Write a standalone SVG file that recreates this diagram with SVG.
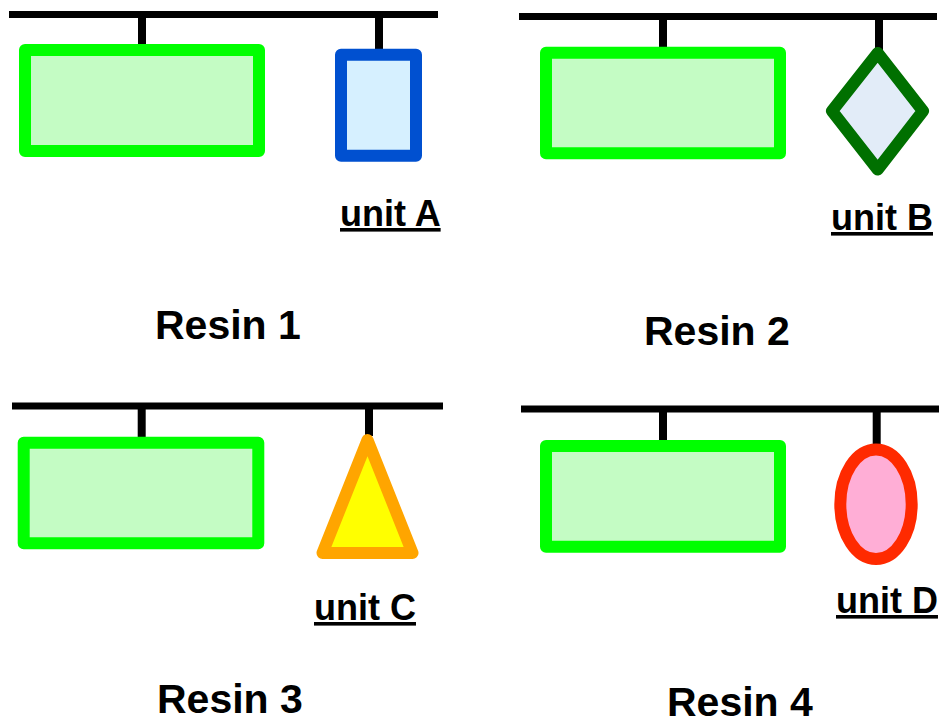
<svg xmlns="http://www.w3.org/2000/svg" width="942" height="726" viewBox="0 0 942 726">
  <style>
    .bar { stroke: #000; stroke-width: 7; fill: none; }
    .stem { stroke: #000; stroke-width: 8; fill: none; }
    .resin { fill: #c4fcc4; stroke: #00ff00; stroke-width: 12; stroke-linejoin: round; }
    .title { font-family: "Liberation Sans", Arial, sans-serif; font-weight: bold; font-size: 41px; fill: #000; }
    .unit { font-family: "Liberation Sans", Arial, sans-serif; font-weight: bold; font-size: 36px; fill: #000; text-decoration: underline; }
  </style>
  <rect width="942" height="726" fill="#fff"/>

  <!-- rails and hangers -->
  <g id="connectors">
    <line class="bar" x1="9" y1="14.5" x2="438" y2="14.5"/>
    <line class="stem" x1="142" y1="14" x2="142" y2="45"/>
    <line class="stem" x1="379" y1="14" x2="379" y2="50"/>

    <line class="bar" x1="519" y1="16.5" x2="937" y2="16.5"/>
    <line class="stem" x1="663" y1="16" x2="663" y2="47"/>
    <line class="stem" x1="879" y1="16" x2="879" y2="54"/>

    <line class="bar" x1="12" y1="406" x2="443" y2="406"/>
    <line class="stem" x1="141.7" y1="406" x2="141.7" y2="437"/>
    <line class="stem" x1="369" y1="406" x2="369" y2="436"/>

    <line class="bar" x1="521" y1="409" x2="939" y2="409"/>
    <line class="stem" x1="663" y1="409" x2="663" y2="440"/>
    <line class="stem" x1="876.7" y1="409" x2="876.7" y2="446"/>
  </g>

  <!-- panel 1 -->
  <g id="resin1">
    <rect class="resin" x="25" y="50" width="234" height="101"/>
    <text class="title" x="155" y="339">Resin 1</text>
  </g>
  <g id="unitA">
    <rect x="341" y="54.7" width="75" height="101" fill="#d6f0ff" stroke="#0050d0" stroke-width="12" stroke-linejoin="round"/>
    <text class="unit" x="340" y="226">unit A</text>
  </g>

  <!-- panel 2 -->
  <g id="resin2">
    <rect class="resin" x="546" y="52.7" width="234" height="100.6"/>
    <text class="title" x="644" y="345">Resin 2</text>
  </g>
  <g id="unitB">
    <polygon points="877.7,53 923,111 877.7,169.5 832,111" fill="#e2ecf8" stroke="#007000" stroke-width="12" stroke-linejoin="round"/>
    <text class="unit" x="831" y="230">unit B</text>
  </g>

  <!-- panel 3 -->
  <g id="resin3">
    <rect class="resin" x="23.7" y="442.7" width="234.6" height="100.6"/>
    <text class="title" x="157" y="713">Resin 3</text>
  </g>
  <g id="unitC">
    <polygon points="367.5,440 412.5,553 322.5,553" fill="#ffff00" stroke="#ffa500" stroke-width="12" stroke-linejoin="round"/>
    <text class="unit" x="314" y="620">unit C</text>
  </g>

  <!-- panel 4 -->
  <g id="resin4">
    <rect class="resin" x="546" y="446" width="234" height="100.7"/>
    <text class="title" x="667" y="716">Resin 4</text>
  </g>
  <g id="unitD">
    <ellipse cx="876" cy="504.2" rx="35.7" ry="54.8" fill="#ffaed6" stroke="#ff2a00" stroke-width="12"/>
    <text class="unit" x="836" y="613">unit D</text>
  </g>
</svg>
